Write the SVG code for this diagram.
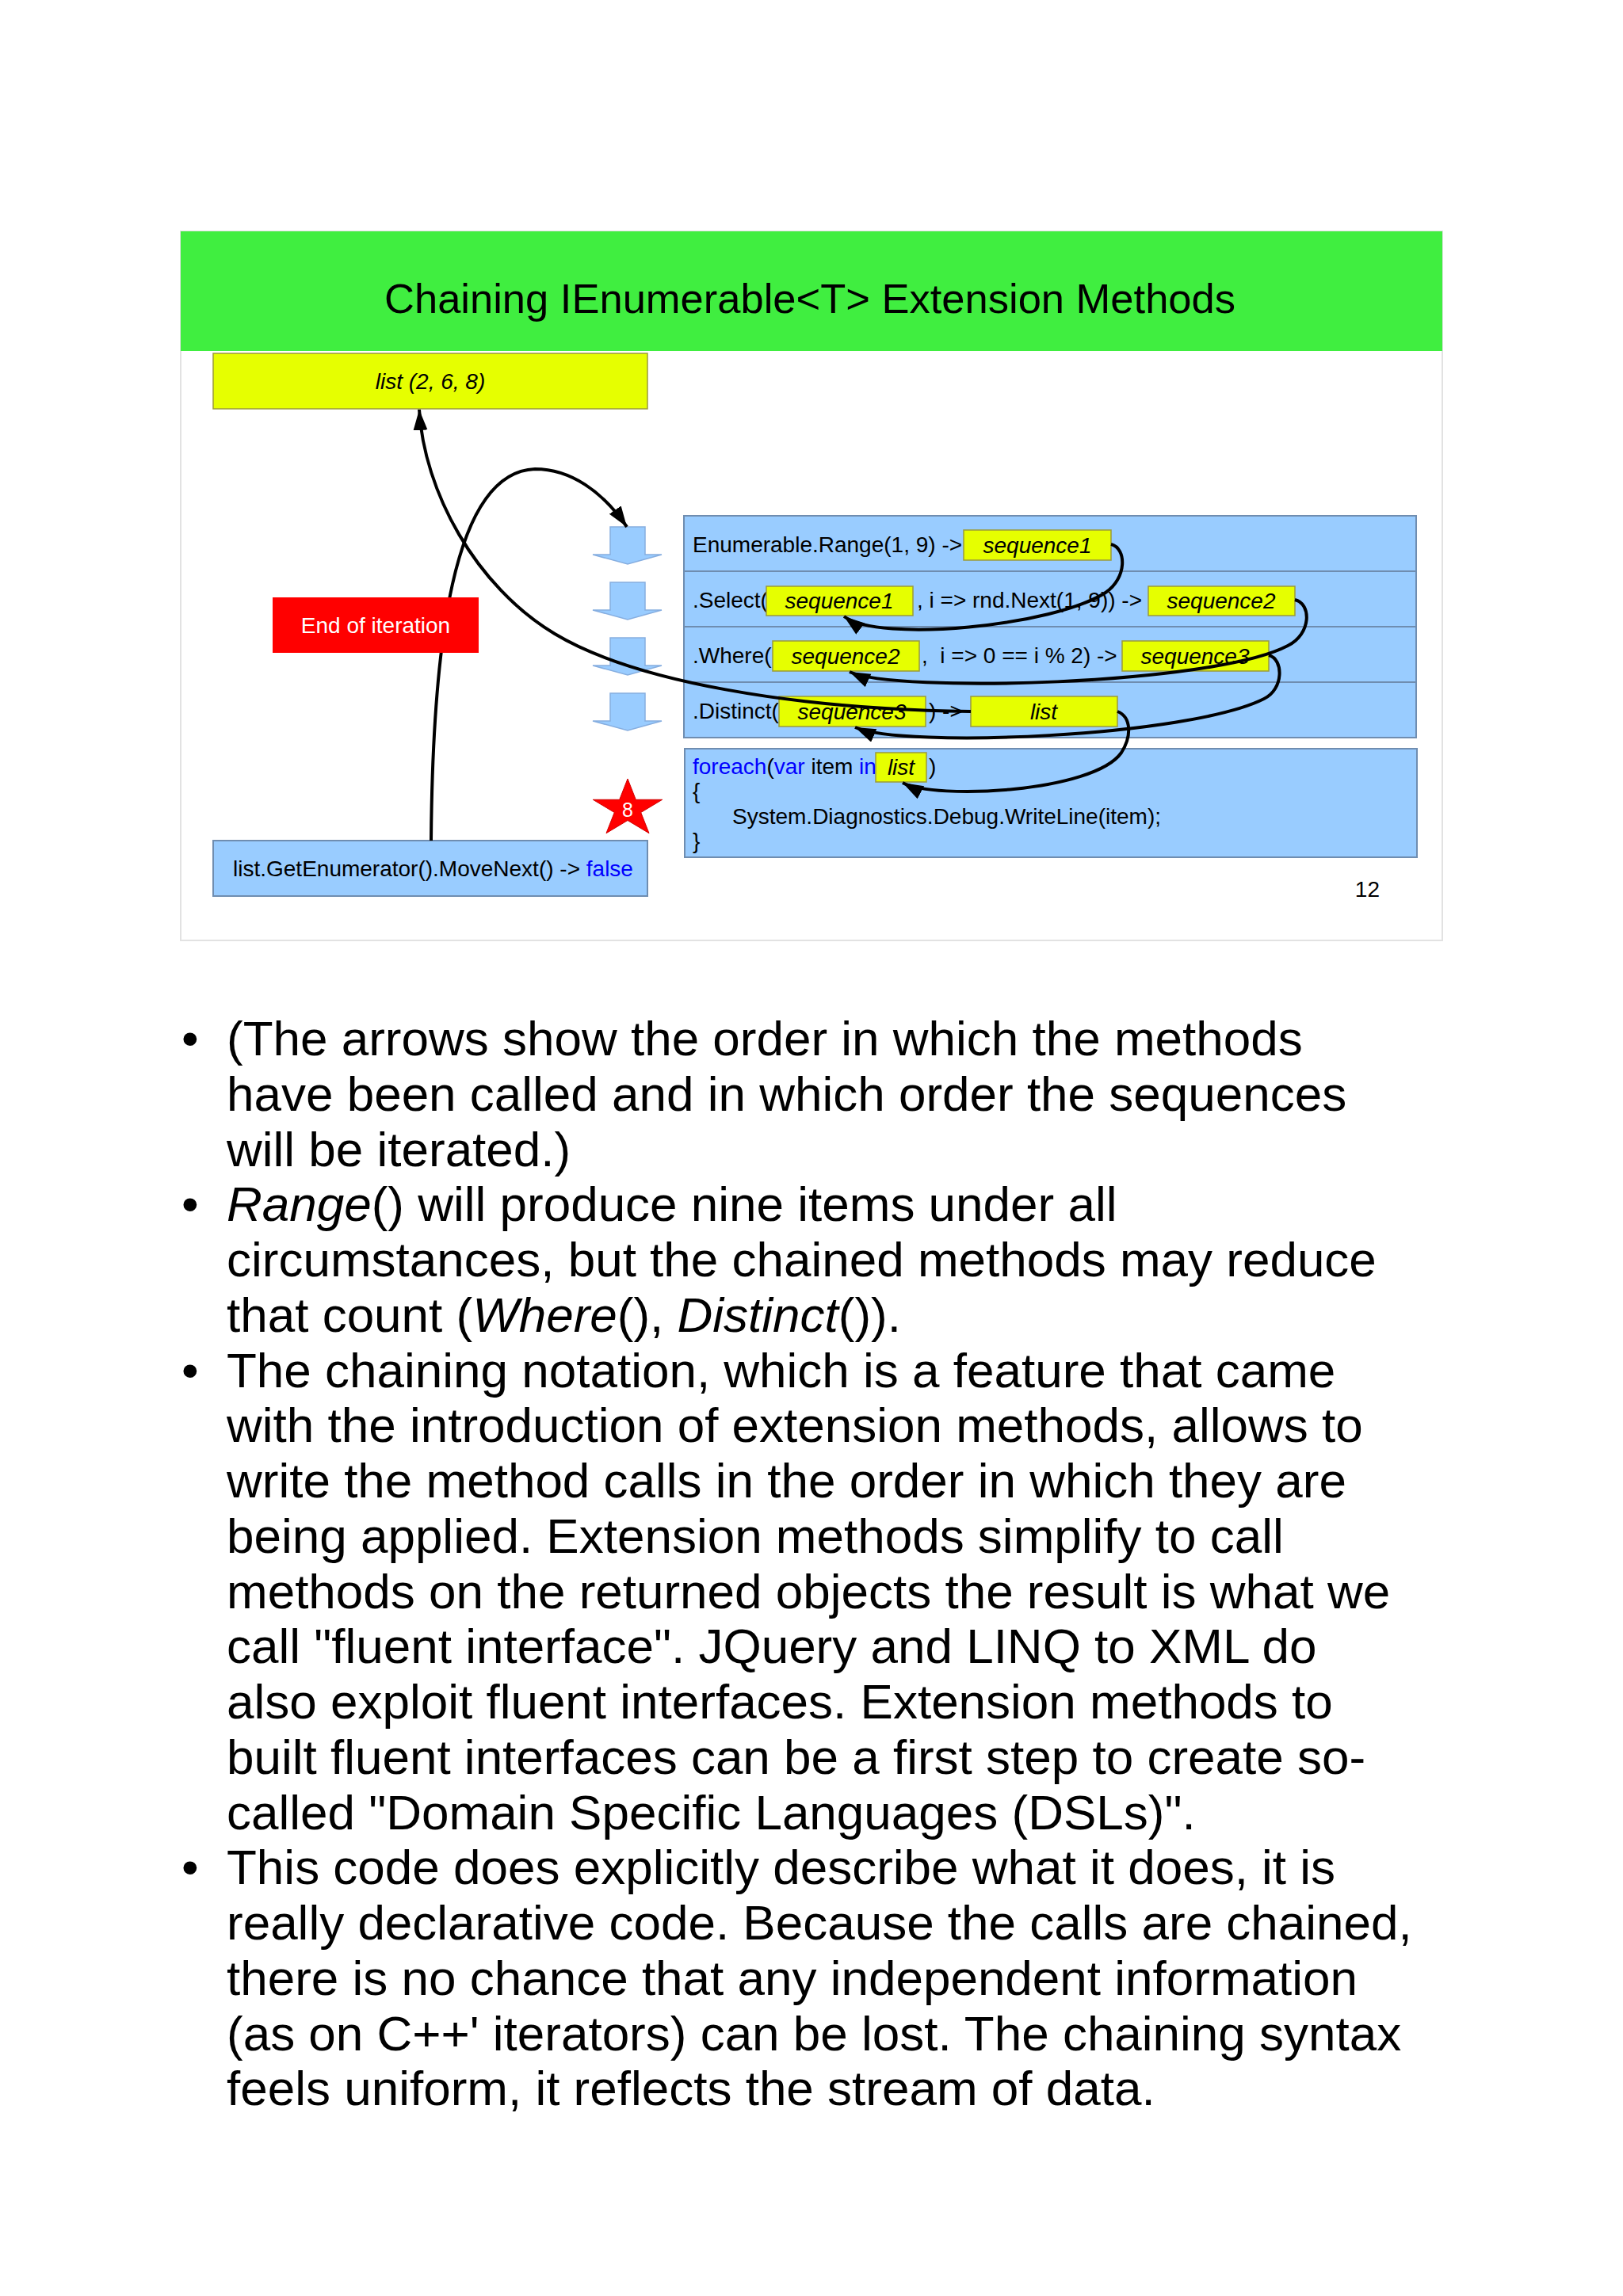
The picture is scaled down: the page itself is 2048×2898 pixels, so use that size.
<svg xmlns="http://www.w3.org/2000/svg" width="2048" height="2898" viewBox="0 0 2048 2898">
<style>
text{font-family:"Liberation Sans",Arial,sans-serif;fill:#000;white-space:pre}
.t28{font-size:28px}
.it{font-style:italic}
.kw{fill:#0000ff}
.yb{fill:#e6ff00;stroke:#9a9a3a;stroke-width:1.5}
.bb{fill:#99ccff;stroke:#6f8db0;stroke-width:2}
.da{fill:#99ccff;stroke:#86aee0;stroke-width:1.5}
.con{fill:none;stroke:#000;stroke-width:4}
.body{font-size:62px}
</style>
<defs>
<marker id="ah" markerUnits="userSpaceOnUse" markerWidth="28" markerHeight="20" refX="26" refY="9" orient="auto">
<path d="M0,0 L26,9 L0,18 z" fill="#000"/>
</marker>
</defs>
<rect x="0" y="0" width="2048" height="2898" fill="#ffffff"/>
<g id="slide">
<rect x="228" y="292" width="1592" height="895" fill="#ffffff" stroke="#e2e2e2" stroke-width="2"/>
</g>
<g id="title">
<rect x="228" y="292" width="1592" height="151" fill="#40ee40"/>
<text x="1022" y="395" font-size="52.5" text-anchor="middle">Chaining IEnumerable&lt;T&gt; Extension Methods</text>
</g>
<g id="list-result">
<rect x="269" y="446" width="548" height="70" class="yb"/>
<text x="543" y="491" class="t28 it" text-anchor="middle">list (2, 6, 8)</text>
</g>
<g id="movenext">
<rect x="269" y="1061" width="548" height="70" class="bb"/>
<text x="294" y="1106" class="t28">list.GetEnumerator().MoveNext() -&gt; <tspan class="kw">false</tspan></text>
</g>
<g id="down-arrows">
<path class="da" d="M770 665 H814 V700 H835 L792 712 L748 700 H770 Z"/>
<path class="da" d="M770 735 H814 V770 H835 L792 782 L748 770 H770 Z"/>
<path class="da" d="M770 805 H814 V840 H835 L792 852 L748 840 H770 Z"/>
<path class="da" d="M770 875 H814 V910 H835 L792 922 L748 910 H770 Z"/>
</g>
<g id="row-range">
<rect x="863" y="651" width="924" height="70" class="bb"/>
<text x="874" y="697" class="t28">Enumerable.Range(1, 9) -&gt;</text>
<rect x="1216" y="669" width="186" height="38" class="yb"/>
<text x="1309" y="698" class="t28 it" text-anchor="middle">sequence1</text>
</g>
<g id="row-select">
<rect x="863" y="721" width="924" height="70" class="bb"/>
<text x="874" y="767" class="t28">.Select(</text>
<rect x="967" y="740" width="185" height="37" class="yb"/>
<text x="1059" y="768" class="t28 it" text-anchor="middle">sequence1</text>
<text x="1157" y="767" class="t28">, i =&gt; rnd.Next(1, 9)) -&gt;</text>
<rect x="1449" y="740" width="185" height="37" class="yb"/>
<text x="1541" y="768" class="t28 it" text-anchor="middle">sequence2</text>
</g>
<g id="row-where">
<rect x="863" y="791" width="924" height="70" class="bb"/>
<text x="874" y="837" class="t28">.Where(</text>
<rect x="975" y="809" width="185" height="38" class="yb"/>
<text x="1067" y="838" class="t28 it" text-anchor="middle">sequence2</text>
<text x="1163" y="837" class="t28">,  i =&gt; 0 == i % 2) -&gt;</text>
<rect x="1416" y="809" width="185" height="38" class="yb"/>
<text x="1508" y="838" class="t28 it" text-anchor="middle">sequence3</text>
</g>
<g id="row-distinct">
<rect x="863" y="861" width="924" height="70" class="bb"/>
<text x="874" y="907" class="t28">.Distinct(</text>
<rect x="983" y="879" width="185" height="38" class="yb"/>
<text x="1075" y="908" class="t28 it" text-anchor="middle">sequence3</text>
<text x="1172" y="907" class="t28">) -&gt;</text>
<rect x="1225" y="879" width="185" height="38" class="yb"/>
<text x="1317" y="908" class="t28 it" text-anchor="middle">list</text>
</g>
<g id="foreach-box">
<rect x="864" y="945" width="924" height="137" class="bb"/>
<text x="874" y="977" class="t28"><tspan class="kw">foreach</tspan>(<tspan class="kw">var</tspan> item <tspan class="kw">in</tspan></text>
<rect x="1105" y="950" width="64" height="37" class="yb"/>
<text x="1137" y="978" class="t28 it" text-anchor="middle">list</text>
<text x="1172" y="977" class="t28">)</text>
<text x="874" y="1008" class="t28">{</text>
<text x="924" y="1040" class="t28">System.Diagnostics.Debug.WriteLine(item);</text>
<text x="874" y="1071" class="t28">}</text>
</g>
<g id="star">
<polygon points="792,983 802.3,1009.3 835.7,1009.3 808.7,1025.5 819,1051.7 792,1035.5 765,1051.7 775.3,1025.5 748.3,1009.3 781.7,1009.3" fill="#ff0000" stroke="#d00000" stroke-width="1"/>
<text x="792" y="1031" font-size="25" text-anchor="middle" style="fill:#ffffff">8</text>
</g>
<g id="page-number">
<text x="1741" y="1132" class="t28" text-anchor="end">12</text>
</g>
<g id="connectors">
<path class="con" marker-end="url(#ah)" d="M544 1061 C546 820, 570 596, 675 592 C720 592, 760 620, 791 665"/>
<path class="con" marker-end="url(#ah)" d="M1225 898 C1000 895, 800 860, 700 800 C600 740, 535 620, 529 517"/>
<path class="con" marker-end="url(#ah)" d="M1402 687 C1422 692, 1422 730, 1395 748 C1330 790, 1110 812, 1065 778"/>
<path class="con" marker-end="url(#ah)" d="M1634 757 C1655 762, 1655 800, 1625 815 C1530 865, 1130 875, 1072 848"/>
<path class="con" marker-end="url(#ah)" d="M1601 827 C1620 832, 1620 870, 1595 882 C1500 930, 1140 945, 1079 918"/>
<path class="con" marker-end="url(#ah)" d="M1410 898 C1428 905, 1428 930, 1415 950 C1380 1000, 1180 1010, 1139 988"/>
</g>
<g id="end-iteration">
<rect x="344" y="754" width="260" height="70" fill="#ff0000"/>
<text x="474" y="799" font-size="28" text-anchor="middle" style="fill:#ffffff">End of iteration</text>
</g>
<g id="notes" class="body">
<text x="229" y="1332" class="body">•</text>
<text x="286" y="1332" class="body">(The arrows show the order in which the methods</text>
<text x="286" y="1401.75" class="body">have been called and in which order the sequences</text>
<text x="286" y="1471.5" class="body">will be iterated.)</text>
<text x="229" y="1541.25" class="body">•</text>
<text x="286" y="1541.25" class="body"><tspan class="it">Range</tspan>() will produce nine items under all</text>
<text x="286" y="1611" class="body">circumstances, but the chained methods may reduce</text>
<text x="286" y="1680.75" class="body">that count (<tspan class="it">Where</tspan>(), <tspan class="it">Distinct</tspan>()).</text>
<text x="229" y="1750.5" class="body">•</text>
<text x="286" y="1750.5" class="body">The chaining notation, which is a feature that came</text>
<text x="286" y="1820.25" class="body">with the introduction of extension methods, allows to</text>
<text x="286" y="1890" class="body">write the method calls in the order in which they are</text>
<text x="286" y="1959.75" class="body">being applied. Extension methods simplify to call</text>
<text x="286" y="2029.5" class="body">methods on the returned objects the result is what we</text>
<text x="286" y="2099.25" class="body">call "fluent interface". JQuery and LINQ to XML do</text>
<text x="286" y="2169" class="body">also exploit fluent interfaces. Extension methods to</text>
<text x="286" y="2238.75" class="body">built fluent interfaces can be a first step to create so-</text>
<text x="286" y="2308.5" class="body">called "Domain Specific Languages (DSLs)".</text>
<text x="229" y="2378.25" class="body">•</text>
<text x="286" y="2378.25" class="body">This code does explicitly describe what it does, it is</text>
<text x="286" y="2448" class="body">really declarative code. Because the calls are chained,</text>
<text x="286" y="2517.75" class="body">there is no chance that any independent information</text>
<text x="286" y="2587.5" class="body">(as on C++' iterators) can be lost. The chaining syntax</text>
<text x="286" y="2657.25" class="body">feels uniform, it reflects the stream of data.</text>
</g>
</svg>
